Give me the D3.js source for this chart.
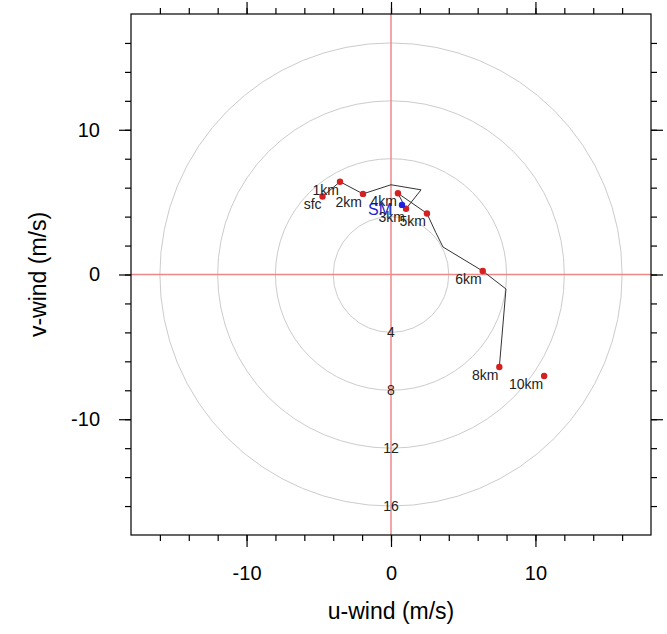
<!DOCTYPE html>
<html><head><meta charset="utf-8">
<script src="https://cdn.jsdelivr.net/npm/d3@7"></script>
<style>body{margin:0;background:#fff}svg{display:block}</style>
</head><body>
<svg id="c" width="667" height="634"></svg>
<script>
// Labelled levels
const levelNames = ["sfc","1km","2km","3km","4km","5km","6km","8km","10km"];
const levelU = [-4.74,-3.53,-1.94,1.04,0.48,2.49,6.35,7.50,10.6];
const levelV = [5.39,6.41,5.57,4.54,5.61,4.22,0.24,-6.39,-7.01];
// Hodograph trace (all levels)
const traceU = [-4.74,-3.53,-1.94,0.0,2.08,1.04,0.48,2.49,3.1,3.6,6.35,7.96,7.50];
const traceV = [5.39,6.41,5.57,6.20,5.85,4.54,5.61,4.22,2.9,1.9,0.24,-1.00,-6.39];
// Storm motion
const smU = [0.76], smV = [4.81], smName = ["SM"];
// Rings
const ringRadii = [4,8,12,16];
const majorTicks = [-10,0,10];
const minorTicks = d3.range(-16,17,2);

const FONT = "Liberation Sans, Arial, Helvetica, sans-serif";
const svg = d3.select("#c");
const x = d3.scaleLinear().domain([-18,18]).range([131,651]);
const y = d3.scaleLinear().domain([-18,18]).range([535,14]);
const kx = x(1)-x(0), ky = y(0)-y(1);

const g = svg.append("g");
// rings
g.selectAll("ellipse.ring").data(ringRadii).enter().append("ellipse")
  .attr("cx",x(0)).attr("cy",y(0)).attr("rx",d=>d*kx).attr("ry",d=>d*ky)
  .attr("fill","none").attr("stroke","#cccccc").attr("stroke-width",1);
// crosshair
g.append("line").attr("x1",x(-18)).attr("x2",x(18)).attr("y1",y(0)).attr("y2",y(0))
  .attr("stroke","#ee8888").attr("stroke-width",1.5);
g.append("line").attr("x1",x(0)).attr("x2",x(0)).attr("y1",y(-18)).attr("y2",y(18))
  .attr("stroke","#ee8888").attr("stroke-width",1.5);
// ring labels
g.selectAll("text.rl").data(ringRadii).enter().append("text")
  .attr("x",x(0)).attr("y",d=>y(-d)).attr("dy","0.35em").attr("text-anchor","middle")
  .attr("font-family",FONT).attr("font-size",14).attr("fill","#222")
  .text(d=>d);
// trace
const line = d3.line().x(i=>x(traceU[i])).y(i=>y(traceV[i]));
g.append("path").attr("d",line(d3.range(traceU.length)))
  .attr("fill","none").attr("stroke","#333").attr("stroke-width",1);
// level dots
g.selectAll("circle.lv").data(levelNames).enter().append("circle")
  .attr("cx",(d,i)=>x(levelU[i])).attr("cy",(d,i)=>y(levelV[i])).attr("r",3.2)
  .attr("fill","#d42020");
// storm motion
g.selectAll("circle.sm").data(smName).enter().append("circle")
  .attr("cx",(d,i)=>x(smU[i])).attr("cy",(d,i)=>y(smV[i])).attr("r",3.2).attr("fill","#2020dd");
g.selectAll("text.sm").data(smName).enter().append("text")
  .attr("x",(d,i)=>x(smU[i])-10).attr("y",(d,i)=>y(smV[i])+5).attr("dy","0.35em")
  .attr("text-anchor","end").attr("font-family",FONT)
  .attr("font-size",16).attr("fill","#2222cc").text(d=>d);
// level labels
g.selectAll("text.lv").data(levelNames).enter().append("text")
  .attr("x",(d,i)=>x(levelU[i])-1).attr("y",(d,i)=>y(levelV[i])+8).attr("dy","0.35em")
  .attr("text-anchor","end").attr("font-family",FONT)
  .attr("font-size",14).attr("fill","#222").text(d=>d);

// frame
svg.append("rect").attr("x",x(-18)).attr("y",y(18)).attr("width",x(18)-x(-18)).attr("height",y(-18)-y(18))
  .attr("fill","none").attr("stroke","#000").attr("stroke-width",1.2);

function ax(axisFn, scale, tr, ticks, len, labels, pad){
  const a = axisFn(scale).tickValues(ticks).tickSizeInner(len).tickSizeOuter(0).tickPadding(pad||8);
  a.tickFormat(labels ? (d=>String(d)) : "");
  const s = svg.append("g").attr("transform",tr).call(a);
  s.select(".domain").remove();
  s.selectAll(".tick line").attr("stroke","#000").attr("stroke-width",1.2);
  s.selectAll("text").attr("font-family",FONT).attr("font-size",20).attr("fill","#000");
  return s;
}
const b = y(-18), t = y(18), l = x(-18), r = x(18);
ax(d3.axisBottom, x, `translate(0,${b})`, minorTicks, 6, false);
ax(d3.axisBottom, x, `translate(0,${b})`, majorTicks, 12, true, 19);
ax(d3.axisTop, x, `translate(0,${t})`, minorTicks, 6, false);
ax(d3.axisTop, x, `translate(0,${t})`, majorTicks, 12, false);
ax(d3.axisLeft, y, `translate(${l},0)`, minorTicks, 6, false);
ax(d3.axisLeft, y, `translate(${l},0)`, majorTicks, 12, true, 19);
ax(d3.axisRight, y, `translate(${r},0)`, minorTicks, 6, false);
ax(d3.axisRight, y, `translate(${r},0)`, majorTicks, 12, false);

// axis titles
svg.append("text").attr("x",x(0)).attr("y",619).attr("text-anchor","middle")
  .attr("font-family",FONT).attr("font-size",23).text("u-wind (m/s)");
svg.append("text").attr("transform",`translate(46,${y(0)}) rotate(-90)`).attr("text-anchor","middle")
  .attr("font-family",FONT).attr("font-size",23).text("v-wind (m/s)");
</script>
</body></html>
